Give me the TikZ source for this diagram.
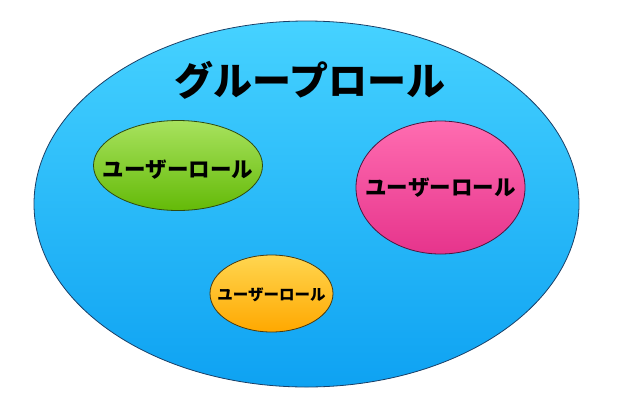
\documentclass[tikz,border=0pt]{standalone}
\usepackage{xcolor}
\usepackage{fontspec}
\newfontfamily\jpfont{Noto Sans CJK JP}
\usepackage{tikz}
\usetikzlibrary{shapes,positioning}

\definecolor{groupTop}{HTML}{46D2FF}
\definecolor{groupBot}{HTML}{0EA2F2}
\definecolor{groupLine}{HTML}{1B3F66}
\definecolor{greenTop}{HTML}{A8E25E}
\definecolor{greenBot}{HTML}{64BA08}
\definecolor{greenLine}{HTML}{2E4A12}
\definecolor{pinkTop}{HTML}{FF6CB0}
\definecolor{pinkBot}{HTML}{E6348C}
\definecolor{pinkLine}{HTML}{4A1840}
\definecolor{orangeTop}{HTML}{FFD650}
\definecolor{orangeBot}{HTML}{FFA800}
\definecolor{orangeLine}{HTML}{4A3A10}

\begin{document}
\begin{tikzpicture}[x=1pt,y=-1pt,
  every node/.style={align=center,text=black},
  role/.style={draw,ellipse,inner sep=0pt,line width=.8pt},
  group/.style={role,draw=groupLine,top color=groupTop,bottom color=groupBot,
    minimum width=545pt,minimum height=366pt},
  title/.style={font=\jpfont\bfseries\fontsize{39}{44}\selectfont},
  user/.style={font=\jpfont\bfseries\fontsize{21.5}{26}\selectfont},
  smalluser/.style={font=\jpfont\bfseries\fontsize{15.5}{19}\selectfont},
  greenrole/.style={role,draw=greenLine,top color=greenTop,bottom color=greenBot},
  pinkrole/.style={role,draw=pinkLine,top color=pinkTop,bottom color=pinkBot},
  orangerole/.style={role,draw=orangeLine,top color=orangeTop,bottom color=orangeBot}]

    \useasboundingbox (0,0) rectangle (618,405);

    \node[group](grouprole) at (306.5,204) {};
    \node[title](grouptitle) at (310,80) {グループロール};

    \node[greenrole,minimum width=169pt,minimum height=90pt](user1) at (178,165.5) {};
    \node[user](label1) at ([yshift=-4.5pt]user1) {ユーザーロール};

    \node[pinkrole,minimum width=169pt,minimum height=133pt](user2) at (440.5,187.5) {};
    \node[user](label2) at (user2) {ユーザーロール};

    \node[orangerole,minimum width=123pt,minimum height=77pt](user3) at (271.5,293.5) {};
    \node[smalluser](label3) at ([yshift=-1pt]user3) {ユーザーロール};
\end{tikzpicture}
\end{document}
